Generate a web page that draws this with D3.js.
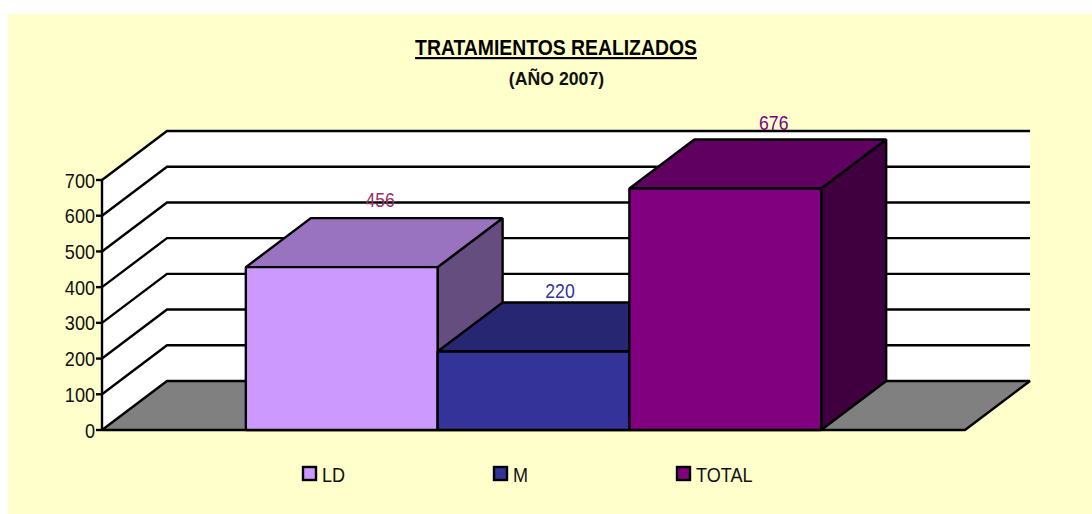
<!DOCTYPE html>
<html><head><meta charset="utf-8">
<script src="https://cdn.jsdelivr.net/npm/d3@7"></script>
<style>html,body{margin:0;padding:0;background:#fff}svg{display:block}</style>
</head><body><svg id="c" width="1092" height="514"></svg>
<script>
const categories = ["LD", "M", "TOTAL"];
const values = [456, 220, 676];
const yTicks = [0, 100, 200, 300, 400, 500, 600, 700];
const frontColors = ["#CC99FF", "#333399", "#800080"];
const topColors = ["#9973BF", "#262673", "#600060"];
const sideColors = ["#664D80", "#1A1A4D", "#400040"];
const labelColors = ["#993366", "#333399", "#800080"];
const titleText = "TRATAMIENTOS REALIZADOS";
const subtitleText = "(AÑO 2007)";

// layout nudges for hand-placed labels (offset from top-face centre)
const labelNudgeX = [6, -6, 16];
const labelNudgeY = [-11, -4, -10];
const legendX = [303, 494, 677];

const svg = d3.select("#c");
const font = "'Liberation Sans', Arial, sans-serif";
const W = 1092, H = 514, sw = 2.4;
const dx = 65, dy = -49;
const y = d3.scaleLinear().domain([0, 700]).range([430, 180]);
const x = d3.scaleBand().domain(categories).range([102, 965]).paddingInner(0).paddingOuter(0.75);
const line = d3.line();
const xL = 102, xR = 965, y0 = y(0);

// squeeze text horizontally to reproduce the reference's narrow letterforms
function narrow(sel, f) {
  sel.each(function () {
    const n = this.getComputedTextLength();
    d3.select(this).attr("textLength", n * f).attr("lengthAdjust", "spacingAndGlyphs");
  });
}

svg.append("rect").attr("x", 8).attr("y", 14).attr("width", W - 8).attr("height", H - 14).attr("fill", "#FFFFCC");

svg.append("path").attr("fill", "#fff")
  .attr("d", line([[xL, y0], [xL, y(700)], [xL + dx, y(700) + dy], [xR + dx, y(700) + dy], [xR + dx, y0 + dy], [xL + dx, y0 + dy]]) + "Z");
svg.append("path").attr("fill", "#808080").attr("stroke", "#000").attr("stroke-width", sw).attr("stroke-linejoin", "bevel")
  .attr("d", line([[xL, y0], [xR, y0], [xR + dx, y0 + dy], [xL + dx, y0 + dy]]) + "Z");
svg.append("g").selectAll("path").data(yTicks.slice(1)).join("path")
  .attr("fill", "none").attr("stroke", "#000").attr("stroke-width", sw)
  .attr("d", d => line([[xL, y(d)], [xL + dx, y(d) + dy], [xR + dx, y(d) + dy]]));
svg.append("path").attr("stroke", "#000").attr("stroke-width", sw).attr("d", line([[xL, y0], [xL, y(700)]]));
const ax = svg.append("g").selectAll("g").data(yTicks).join("g");
ax.append("path").attr("stroke", "#000").attr("stroke-width", sw).attr("d", d => line([[xL - 6, y(d)], [xL, y(d)]]));
ax.append("text").attr("x", xL - 7).attr("y", d => y(d) + 7.5).attr("text-anchor", "end")
  .attr("font-family", font).attr("font-size", 21).attr("fill", "#111").text(d => d).call(narrow, 0.86);

const bars = svg.append("g").selectAll("g").data(categories).join("g");
bars.each(function (c, i) {
  const g = d3.select(this), l = x(c), r = l + x.bandwidth(), t = y(values[i]);
  const st = s => s.attr("stroke", "#000").attr("stroke-width", sw).attr("stroke-linejoin", "bevel");
  g.append("path").attr("fill", sideColors[i]).call(st).attr("d", line([[r, t], [r + dx, t + dy], [r + dx, y0 + dy], [r, y0]]) + "Z");
  g.append("path").attr("fill", topColors[i]).call(st).attr("d", line([[l, t], [r, t], [r + dx, t + dy], [l + dx, t + dy]]) + "Z");
  g.append("rect").attr("fill", frontColors[i]).call(st).attr("x", l).attr("y", t).attr("width", r - l).attr("height", y0 - t);
});

svg.append("g").selectAll("text").data(categories).join("text")
  .attr("x", (c, i) => x(c) + x.bandwidth() / 2 + dx / 2 + labelNudgeX[i])
  .attr("y", (c, i) => y(values[i]) + dy + labelNudgeY[i])
  .attr("text-anchor", "middle").attr("font-family", font).attr("font-size", 21)
  .attr("fill", (c, i) => labelColors[i]).text((c, i) => values[i]).call(narrow, 0.84);

const lg = svg.append("g").selectAll("g").data(categories).join("g");
lg.append("rect").attr("x", (c, i) => legendX[i]).attr("y", 467).attr("width", 13).attr("height", 13)
  .attr("fill", (c, i) => frontColors[i]).attr("stroke", "#000").attr("stroke-width", sw);
lg.append("text").attr("x", (c, i) => legendX[i] + 19).attr("y", 482).attr("font-family", font).attr("font-size", 21)
  .attr("fill", "#111").text(c => c).call(narrow, 0.86);

svg.append("text").attr("x", 556).attr("y", 55).attr("text-anchor", "middle").attr("font-family", font)
  .attr("font-size", 22).attr("font-weight", 700).attr("text-decoration", "underline").attr("fill", "#000").text(titleText).call(narrow, 0.88);
svg.append("text").attr("x", 556.5).attr("y", 85).attr("text-anchor", "middle").attr("font-family", font)
  .attr("font-size", 19).attr("font-weight", 700).attr("fill", "#111").text(subtitleText).call(narrow, 0.93);
</script></body></html>
